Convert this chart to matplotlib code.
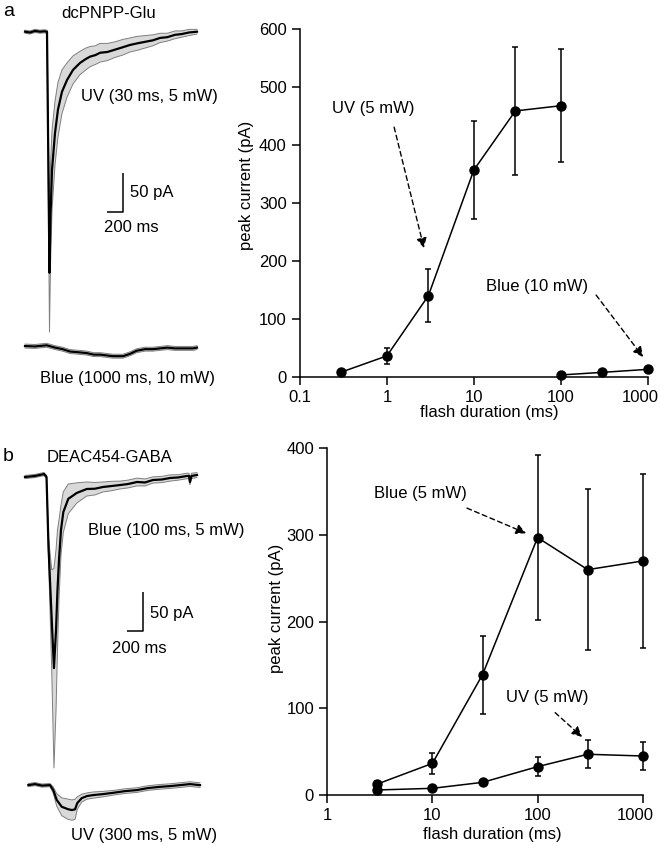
import matplotlib
matplotlib.use('Agg')
import matplotlib.pyplot as plt
from matplotlib.transforms import ScaledTranslation
import numpy as np

plt.rcParams['font.family'] = ['Liberation Sans', 'DejaVu Sans']

# ---------------- dose-response data (peak current, pA) ----------------
a_uv_dur = [0.3, 1, 3, 10, 30, 100]
a_uv_amp = [8, 36, 140, 357, 459, 468]
a_uv_err = [3, 14, 46, 84, 110, 98]
a_blue_dur = [100, 300, 1000]
a_blue_amp = [3, 7.5, 12.7]
a_blue_err = [1, 1, 1]

b_blue_dur = [3, 10, 30, 100, 300, 1000]
b_blue_amp = [12.7, 36.5, 139, 297, 260, 270]
b_blue_err = [3, 12, 45, 95, 93, 100]
b_uv_dur = [3, 10, 30, 100, 300, 1000]
b_uv_amp = [5.8, 7.7, 14.6, 32.7, 47, 45]
b_uv_err = [1, 1.5, 2, 11, 16, 16]

a_xticks = [0.1, 1, 10, 100, 1000]
a_xticklabels = ['0.1', '1', '10', '100', '1000']
a_yticks = [0, 100, 200, 300, 400, 500, 600]
b_xticks = [1, 10, 100, 1000]
b_xticklabels = ['1', '10', '100', '1000']
b_yticks = [0, 100, 200, 300, 400]

# ---------------- example traces (time ms, mean pA, band half-width pA) ----------------
a_uv_t = [0, 62, 125, 188, 238, 275, 306, 319, 338, 375, 412, 462, 525, 600, 688,
          760, 812, 880, 938, 1030, 1125, 1220, 1312, 1400, 1500,
          1600, 1688, 1780, 1875, 1960, 2050, 2150]
a_uv_mean = [0, -1, 1, 0, 0.5, 0, -309, -235, -177, -130, -100, -77, -62, -49, -40,
             -35, -32, -30, -27, -26, -23, -20, -17, -15, -13,
             -11, -8, -7, -4, -3, -1, 0]
a_uv_sem = [2, 2, 2, 2, 2, 2, 76, 64, 51, 41, 35, 28, 22, 18, 15,
            14, 13, 12, 12, 11, 10, 10, 9, 9, 8,
            7, 6, 5, 5, 4, 4, 3]

a_blue_t = [0, 125, 271, 375, 470, 562, 670, 771, 860, 938,
            1020, 1100, 1225, 1312, 1396, 1500, 1600, 1688, 1780, 1875,
            2000, 2100, 2150]
a_blue_mean = [0, -0.5, 1, -2, -4, -7, -8, -9, -11, -11,
               -12, -13, -13, -10, -6, -4, -4, -3, -2, -3,
               -3, -3, -2]
a_blue_sem = [2.5] * len(a_blue_t)

b_blue_t = [0, 125, 238, 269, 294, 334, 362, 388, 406, 425, 450, 479, 541, 646, 771,
            875, 975, 1088, 1188, 1288, 1400, 1500, 1600, 1712, 1812, 1912, 2025,
            2050, 2062, 2081, 2150]
b_blue_mean = [0, 1.3, 3.8, 0, -90, -183, -245, -196, -145, -106, -68, -45, -28, -20.5, -15.4,
               -15, -12.8, -11.5, -10.3, -9, -6.4, -7, -3.8, -3.2, -1.3, -0.6, 1.3,
               1.3, -6.4, 1.3, 2.6]
b_blue_sem = [2, 2, 2, 2, 13, 64, 128, 103, 77, 51, 32, 26, 19, 13, 9,
              8, 6.4, 6, 5, 5, 5, 4.5, 4, 4, 4, 3.5, 3.5, 3.5, 3.5, 3.5, 3]

b_uv_t = [0, 84, 171, 271, 312, 355, 418, 500, 546, 584, 612, 668, 734, 809, 934,
          1059, 1209, 1355, 1496, 1646, 1771, 1896, 2021, 2146]
b_uv_mean = [0, 1.3, -0.6, 0, -6.4, -19, -27.8, -31, -32, -31, -23, -16.7, -14, -12.8, -11.5,
             -9.9, -7.7, -6.4, -3.8, -2.2, -1.3, 0, 1.3, 0]
b_uv_sem = [2, 2, 2, 2, 4, 8, 11.5, 13, 13, 13, 8, 5, 4, 4, 3.5,
            3, 3, 3, 3, 3, 3, 3, 3, 3]

W, H = 660, 846
fig = plt.figure(figsize=(W / 100, H / 100), dpi=100)

FS = 12
BAND_FACE = '#d9d9d9'
BAND_EDGE = '#7f7f7f'


def px_rect(x0, y0, x1, y1):
    return [x0 / W, 1 - y1 / H, (x1 - x0) / W, (y1 - y0) / H]


def ftext(x, y, s, ha='left', size=FS, **kw):
    fig.text(x / W, 1 - y / H, s, ha=ha, va='center', fontsize=size, **kw)


def draw_trace(ax, t, m, s, dt, dy):
    t = np.asarray(t, float) + dt
    m = np.asarray(m, float) + dy
    s = np.asarray(s, float)
    ax.fill_between(t, m - s, m + s, facecolor=BAND_FACE, edgecolor='none', zorder=1)
    ax.plot(t, m - s, color=BAND_EDGE, lw=0.7, zorder=2)
    ax.plot(t, m + s, color=BAND_EDGE, lw=0.7, zorder=2)
    ax.plot(t, m, color='black', lw=1.6, zorder=3)


def scale_bar(ax, x, y):
    ax.plot([x - 200, x, x], [y, y, y + 50], color='black', lw=1.1, solid_capstyle='butt')


# ---------------- left panels: traces ----------------
MS_PER_PX = 12.5
PA_PER_PX = 1.282

axa = fig.add_axes(px_rect(0, 0, 220, 420))
axa.set_xlim(0, 220 * MS_PER_PX)
axa.set_ylim(-(420 - 31.7) * PA_PER_PX, 31.7 * PA_PER_PX)
axa.axis('off')
draw_trace(axa, a_uv_t, a_uv_mean, a_uv_sem, 312.5, 0)
draw_trace(axa, a_blue_t, a_blue_mean, a_blue_sem, 312.5, -403)
scale_bar(axa, 1541, -231)

axb = fig.add_axes(px_rect(0, 420, 220, 846))
axb.set_xlim(0, 220 * MS_PER_PX)
axb.set_ylim(-(846 - 477) * PA_PER_PX, (477 - 420) * PA_PER_PX)
axb.axis('off')
draw_trace(axb, b_blue_t, b_blue_mean, b_blue_sem, 312.5, 0)
draw_trace(axb, b_uv_t, b_uv_mean, b_uv_sem, 354, -395)
scale_bar(axb, 1791, -198)

ftext(3, 12, 'a', size=14)
ftext(109, 13, 'dcPNPP-Glu', ha='center')
ftext(81, 97, 'UV (30 ms, 5 mW)')
ftext(130, 193, '50 pA')
ftext(131.5, 227, '200 ms', ha='center')
ftext(128, 378, 'Blue (1000 ms, 10 mW)', ha='center')

ftext(3, 456, 'b', size=14)
ftext(110, 457, 'DEAC454-GABA', ha='center')
ftext(88, 531, 'Blue (100 ms, 5 mW)')
ftext(150, 613, '50 pA')
ftext(139.5, 648, '200 ms', ha='center')
ftext(144, 835, 'UV (300 ms, 5 mW)', ha='center')


# ---------------- right panels: dose-response ----------------
def setup(ax, xlim, xticks, xticklabels, ylim, yticks):
    ax.set_xscale('log')
    ax.set_xlim(xlim)
    ax.set_ylim(ylim)
    ax.set_xticks(xticks)
    ax.set_xticklabels(xticklabels)
    ax.xaxis.set_minor_locator(matplotlib.ticker.NullLocator())
    ax.set_yticks(yticks)
    for sp in ('top', 'right'):
        ax.spines[sp].set_visible(False)
    for sp in ('left', 'bottom'):
        ax.spines[sp].set_linewidth(1.1)
    ax.tick_params(direction='out', length=5.5, width=1.1, labelsize=FS, pad=4)
    ax.set_xlabel('flash duration (ms)', fontsize=FS)
    ax.set_ylabel('peak current (pA)', fontsize=FS)
    # the last tick label sits slightly left of its tick in the reference
    last = ax.get_xticklabels()[-1]
    last.set_transform(last.get_transform() + ScaledTranslation(-0.07, 0, fig.dpi_scale_trans))


def series(ax, x, y, e):
    eb = ax.errorbar(x, y, yerr=e, fmt='-o', color='black', ms=6.5, lw=1.1,
                     elinewidth=1.1, capsize=2.5, capthick=1.1)
    for art in eb.get_children():
        art.set_clip_on(False)


def arrow_label(ax, label, txy, start, end):
    ax.text(txy[0], txy[1], label, ha='center', va='center', fontsize=FS)
    ax.annotate('', xy=end, xytext=start,
                arrowprops=dict(arrowstyle='-|>', linestyle=(0, (3.5, 2.5)), lw=1.0,
                                color='black', mutation_scale=15, shrinkA=0, shrinkB=0))


ax1 = fig.add_axes(px_rect(300, 29.3, 647.7, 376.7))
setup(ax1, (0.1, 1000), a_xticks, a_xticklabels, (0, 600), a_yticks)
series(ax1, a_uv_dur, a_uv_amp, a_uv_err)
series(ax1, a_blue_dur, a_blue_amp, a_blue_err)
arrow_label(ax1, 'UV (5 mW)', (0.69, 464), (1.21, 431), (2.67, 222))
arrow_label(ax1, 'Blue (10 mW)', (53.3, 155), (255, 141), (885, 34))
ax1.yaxis.set_label_coords(-0.132, 0.55)
ax1.xaxis.set_label_coords(0.544, -0.082)

ax2 = fig.add_axes(px_rect(327.3, 448.3, 642.7, 795))
setup(ax2, (1, 1000), b_xticks, b_xticklabels, (0, 400), b_yticks)
series(ax2, b_blue_dur, b_blue_amp, b_blue_err)
series(ax2, b_uv_dur, b_uv_amp, b_uv_err)
arrow_label(ax2, 'Blue (5 mW)', (7.62, 348), (21.3, 331), (77.8, 302))
arrow_label(ax2, 'UV (5 mW)', (123, 113), (147, 95), (265, 67))
ax2.yaxis.set_label_coords(-0.136, 0.539)
ax2.xaxis.set_label_coords(0.522, -0.092)

fig.savefig('out.png', dpi=100)
